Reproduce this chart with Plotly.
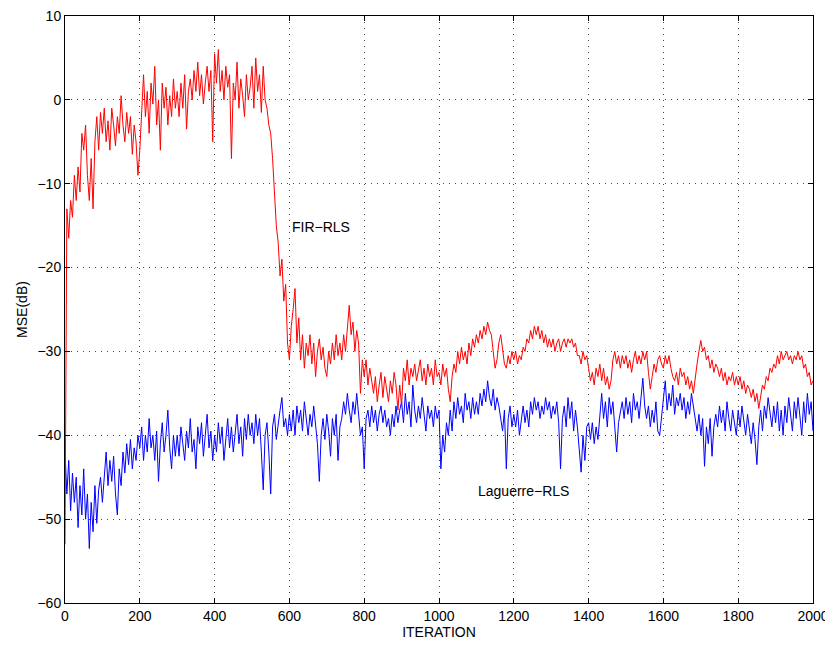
import plotly.graph_objects as go

# iteration index (x axis) every 5 iterations
iterations = list(range(0, 2001, 5))

# FIR-RLS MSE (dB)
fir_rls = [
    -53, -13, -16.5, -12, -14, -9, -12, -8, -11, -4, -6, -3, -9, -12, -7, -13, -5, -2, -6, -1.5,
    -4, -1, -5, -2.5, -6, -1, -3, -5.5, -2, -4, 0.5, -3, -5, -1.5, -4, -2, -6.5, -3, -5, -9,
    -6, -1, 3, -2, 1, -4, 2, -0.5, 4, -3, 0, -6, 2, -1, 1.5, -3, 0.5, -2, 2.5, -1,
    1, -2, 2, -1, 3, -3.5, 1, 2.5, 0, 3.5, 1, 4.5, 0.5, 3, -0.5, 2, 4, 1, 3.5, -5,
    5.5, 2, 6, 1, 3.5, 0, 4, 1.5, 3, -7, 2, 0, 4.5, -1, 2.5, 0.5, -2, 3, 0, 1.5,
    4, -1, 5, 1, 3, -1.5, 4, 0, -1, -3, -4, -7, -11, -15, -17, -21, -19, -24, -22, -29,
    -31, -27, -25, -22.5, -29, -26, -31, -28, -32, -29, -30.5, -28, -31.5, -29, -33, -30, -28.5, -31, -29.5, -32,
    -33, -30, -31.5, -29, -31, -28, -30.5, -29, -31, -28, -30, -27, -24.5, -28, -26.5, -30, -27.5, -29, -35, -31,
    -33, -31, -34, -32, -33.5, -35, -33, -36, -34, -32.5, -35.5, -33, -34.5, -36, -33.5, -35, -32.5, -34, -37, -34,
    -36.5, -32, -33.5, -31, -34, -32, -33, -31.5, -33.5, -32, -31, -33.5, -32, -34, -31.5, -33, -32, -34, -31, -33,
    -32.5, -34, -31.5, -33, -32, -34.5, -36, -33, -31.5, -32.5, -30, -31.5, -29.5, -31, -30, -31.5, -29, -30.5, -28.5, -29.5,
    -28, -29, -27.5, -28.5, -27, -28, -26.5, -27.5, -28, -30, -32, -31, -29, -28, -29.5, -31.5, -32, -30.5, -31.5, -30,
    -31, -30, -31.5, -30.5, -31, -29.5, -30, -28.5, -29, -27.5, -28.5, -27, -28, -27, -28.5, -27.5, -29, -28, -29.5, -28.5,
    -29.5, -28.5, -30, -29, -28.5, -30, -29, -28.5, -29.5, -28.5, -29, -28.5, -29.5, -29, -30.5, -30.5, -31.5, -30, -31, -30.5,
    -32, -33.5, -32.5, -34, -32, -33, -31.5, -33.5, -32, -34, -33, -34.5, -33.5, -31, -30, -31.5, -30.5, -32, -30.5, -31.5,
    -30.5, -32, -31, -32.5, -31, -30, -31.5, -30.5, -31.5, -30, -31, -30, -32.5, -34.5, -33, -31.5, -32.5, -31, -30.5, -31.5,
    -32, -30.5, -31.5, -30.5, -32, -33, -33.5, -32.5, -34, -32, -33, -32.5, -34, -33, -34.5, -33.5, -35, -33, -31.5, -30,
    -28.7, -30, -29.5, -31, -30.5, -32, -31, -32.5, -31.5, -32, -33, -32, -33.5, -32.5, -34, -33, -33.5, -32.5, -34, -33,
    -34, -33, -34.5, -33.5, -35, -34, -34.5, -35.5, -34.5, -36, -35, -36.8, -35.5, -34, -34.5, -33, -33.5, -32, -32.5, -31.5,
    -32, -30.5, -31.5, -30, -31, -30.5, -30, -31, -30.5, -31.5, -30.5, -31, -30, -31, -30.5, -32, -31.5, -33, -32.5, -34,
    -33.5,
]

# Laguerre-RLS MSE (dB)
laguerre_rls = [
    -42, -47, -43, -49, -44.5, -48, -45, -51, -46, -49.5, -44, -50, -47, -53.5, -48, -51.5, -46, -50.5, -46.5, -45,
    -48, -44.5, -42, -46, -43, -45.5, -42.5, -47, -49.5, -44, -46, -42, -44.5, -41, -43.5, -40.5, -44, -41.5, -43, -40,
    -41.5, -39, -43, -40, -42, -38, -41.5, -40, -43, -39.5, -45.5, -41, -38.5, -42, -40, -37, -41.5, -44, -40, -42.5,
    -40, -42.5, -39, -41, -43, -39.5, -41.5, -38, -42, -40.5, -44, -39, -41, -38.5, -42.5, -40, -37.5, -41.5, -39.5, -43,
    -40, -42, -38.5, -41, -39, -43, -40.5, -38, -41.5, -39, -42, -40, -37.5, -41, -39, -42.5, -38, -40.5, -37.5, -40,
    -38.5, -41, -37.5, -40, -38, -42, -46.5, -40, -38.5, -42, -47, -39, -37.5, -40.5, -38.5, -37, -35.5, -39, -38, -40,
    -37.5, -39.5, -37, -40, -36.5, -38.5, -37, -39.5, -36, -38, -40, -37.5, -39, -36.5, -38.5, -41, -45.5, -40, -38, -40.5,
    -37.5, -39.5, -42.5, -38, -40, -37.5, -43, -39, -38, -36, -37.5, -35, -37, -38.5, -36, -37.5, -35, -38, -40, -39,
    -44, -38, -37, -39, -36.5, -38.5, -37, -39.5, -37.5, -36.5, -38.5, -37, -39, -38, -40, -37.5, -39, -36.5, -38.5, -37,
    -36, -38.5, -35, -37.5, -36, -39, -34, -37, -38.5, -36.5, -38, -35.5, -37.5, -39.5, -36.5, -38, -37, -39, -36.5, -38,
    -37, -44, -40, -42, -38.5, -40, -37, -39.5, -36, -38, -35.5, -37.5, -36.5, -38.5, -35, -37, -36, -38, -35.5, -37.5,
    -36, -37.5, -35, -36.5, -34.5, -36, -33.5, -35.5, -36.5, -34.5, -37, -35.5, -36.5, -38, -39.5, -37, -44, -38, -36.5, -39,
    -37.5, -39, -37, -40, -38, -36.5, -38.5, -37, -39, -36, -37.5, -35.5, -37, -36, -38, -36.5, -37.5, -35.5, -37, -36,
    -38, -36.5, -37.5, -36, -38.5, -44, -38, -36.5, -39, -35.5, -38, -36, -39.5, -37, -39, -42, -44.4, -40, -43, -39,
    -38.5, -40.5, -38.5, -41, -39, -40.5, -37.5, -35, -38, -36, -39, -35.5, -37.5, -36, -39, -42, -38.5, -37, -36, -38,
    -35.5, -37.5, -36, -38.5, -35, -37, -36, -38, -35.5, -33.2, -36.5, -38, -36.5, -39, -37, -38.5, -36, -39.5, -40, -37.5,
    -36, -33.5, -37, -35, -36.5, -34, -37.5, -35.5, -36.5, -35, -37, -35.5, -38, -36, -37.5, -35, -36.5, -38, -39.5, -37.5,
    -40, -38, -43.7, -39, -41, -38, -42.5, -39, -37.5, -39, -36.5, -38.5, -37, -39.5, -36, -38, -39.5, -37, -38.5, -40,
    -37, -39, -36.5, -38.5, -40, -37.5, -39, -41, -38.5, -40.5, -43.5, -39, -37, -39.5, -36.5, -38, -35.5, -37.5, -39, -36.5,
    -38.5, -36, -39.5, -37, -40, -36.5, -38.5, -35.5, -37.5, -39.5, -36, -38, -35.5, -37.5, -40, -36, -38.5, -35, -37.5, -36,
    -39.5,
]

x_ticks = [0, 200, 400, 600, 800, 1000, 1200, 1400, 1600, 1800, 2000]
y_ticks = [-60, -50, -40, -30, -20, -10, 0, 10]
series_labels = ["FIR−RLS", "Laguerre−RLS"]
label_pos = [(602, -15.2), (1099, -46.6)]

FONT = "Liberation Sans, Arial, Helvetica, sans-serif"

fig = go.Figure()
fig.add_trace(go.Scatter(x=iterations, y=laguerre_rls, mode="lines",
                         line=dict(color="#0000ff", width=1), name=series_labels[1]))
fig.add_trace(go.Scatter(x=iterations, y=fir_rls, mode="lines",
                         line=dict(color="#ff0000", width=1), name=series_labels[0]))

for txt, (lx, ly) in zip(series_labels, label_pos):
    fig.add_annotation(x=lx, y=ly, text=txt, showarrow=False, xanchor="left", yanchor="middle",
                       font=dict(family=FONT, size=14, color="black"))

axis_common = dict(
    showline=True, linecolor="black", linewidth=1, mirror="ticks",
    ticks="inside", ticklen=5, tickcolor="black",
    showgrid=True, gridcolor="#444444", gridwidth=1, griddash="1px,5px",
    zeroline=False, tickfont=dict(family=FONT, size=14, color="black"),
    automargin=False, ticklabeloverflow="allow",
)

fig.update_xaxes(range=[0, 2000], tickvals=x_ticks,
                 title=dict(text="ITERATION", font=dict(family=FONT, size=14, color="black"), standoff=2),
                 **axis_common)
fig.update_yaxes(range=[-60, 10], tickvals=y_ticks,
                 title=dict(text="MSE(dB)", font=dict(family=FONT, size=14, color="black"), standoff=6),
                 **axis_common)

# page body adds an 8 px offset, so the figure is sized to fit inside the window
fig.update_layout(
    width=825, height=632,
    margin=dict(l=57, r=20, t=8, b=37, autoexpand=False),
    plot_bgcolor="white", paper_bgcolor="white",
    showlegend=False,
    font=dict(family=FONT, size=14, color="black"),
)

fig.write_html("out.html")
